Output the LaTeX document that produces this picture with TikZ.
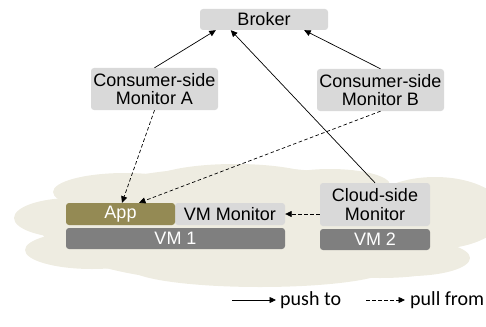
\documentclass[tikz,border=0pt]{standalone}
\usepackage{fontspec}
\setmainfont{Liberation Sans}
\newfontfamily\legendfont{Carlito}
\usetikzlibrary{arrows.meta,calc}

\definecolor{cloudfill}{HTML}{EEECE1}
\definecolor{lightbox}{HTML}{D9D9D9}
\definecolor{darkbox}{HTML}{7F7F7F}
\definecolor{appfill}{HTML}{948A54}

\tikzset{
  box/.style={rectangle, rounded corners=3pt, inner sep=0pt, align=center,
    font=\fontsize{18}{18.5}\selectfont},
  lightnode/.style={box, fill=lightbox, text=black},
  darknode/.style={box, fill=darkbox, text=white},
  appnode/.style={box, fill=appfill, text=white},
  push/.style={draw=black, line width=0.7pt, -{Triangle[length=6.5pt,width=6pt]}},
  pull/.style={push, dash pattern=on 3.5pt off 2.5pt},
  legendtext/.style={anchor=west, inner sep=0pt, font=\legendfont\fontsize{20}{20}\selectfont}
}

\begin{document}
\begin{tikzpicture}[x=1pt, y=-1pt]
  \useasboundingbox (0,0) rectangle (486,326);

  % cloud backdrop made of overlapping lobes
  \begin{scope}
    \clip (0,0) rectangle (486,326);
    \fill[cloudfill] (240,225) ellipse [x radius=200, y radius=58];
    \fill[cloudfill] (72,218) ellipse [x radius=58, y radius=20];
    \fill[cloudfill] (92,250) ellipse [x radius=67, y radius=19];
    \fill[cloudfill] (125,192) ellipse [x radius=72, y radius=19];
    \fill[cloudfill] (235,182) ellipse [x radius=85, y radius=18];
    \fill[cloudfill] (330,185) ellipse [x radius=60, y radius=16];
    \fill[cloudfill] (435,213) ellipse [x radius=70, y radius=36];
    \fill[cloudfill] (410,258) ellipse [x radius=60, y radius=18];
    \fill[cloudfill] (260,268) ellipse [x radius=130, y radius=19];
    \fill[cloudfill] (380,268) ellipse [x radius=60, y radius=10];
  \end{scope}

  % nodes
  \node[lightnode, minimum width=128pt, minimum height=21pt] (broker) at (264,19.5) {Broker};
  \node[lightnode, minimum width=127pt, minimum height=42pt] (monA) at (154.5,89) {Consumer-side\\Monitor A};
  \node[lightnode, minimum width=127pt, minimum height=42pt] (monB) at (380.5,90) {Consumer-side\\Monitor B};
  \node[lightnode, minimum width=110pt, minimum height=43pt] (cloudmon) at (375,204.5) {Cloud-side\\Monitor};
  \node[darknode, minimum width=110pt, minimum height=21pt] (vm2) at (375,239.5) {VM 2};
  \node[lightnode, minimum width=110pt, minimum height=22pt] (vmmon) at (230,214) {VM Monitor};
  \node[appnode, minimum width=109pt, minimum height=22pt] (app) at (120.5,214) {App};
  \node[darknode, minimum width=219pt, minimum height=21pt] (vm1) at (175.5,238.5) {VM 1};

  % push connections to the broker
  \draw[push] (monA.north) -- ([xshift=16pt]broker.south west);
  \draw[push] (monB.north) -- ([xshift=-24pt]broker.south east);
  \draw[push] (cloudmon.north) -- ([xshift=31pt]broker.south west);

  % pull connections
  \draw[pull] (monA.south) -- ([xshift=1.5pt]app.north);
  \draw[pull] (monB.south) -- ([xshift=18.5pt]app.north);
  \draw[pull] (cloudmon.west |- vmmon.east) -- (vmmon.east);

  % legend
  \coordinate (pushA) at (232,300);
  \coordinate (pushB) at (276,300);
  \coordinate (pullA) at (366,300);
  \coordinate (pullB) at (405,300);
  \draw[push] (pushA) -- (pushB);
  \node[legendtext] (pushlbl) at (280,300) {push to};
  \draw[pull] (pullA) -- (pullB);
  \node[legendtext] (pulllbl) at (410,300) {pull from};
\end{tikzpicture}
\end{document}
